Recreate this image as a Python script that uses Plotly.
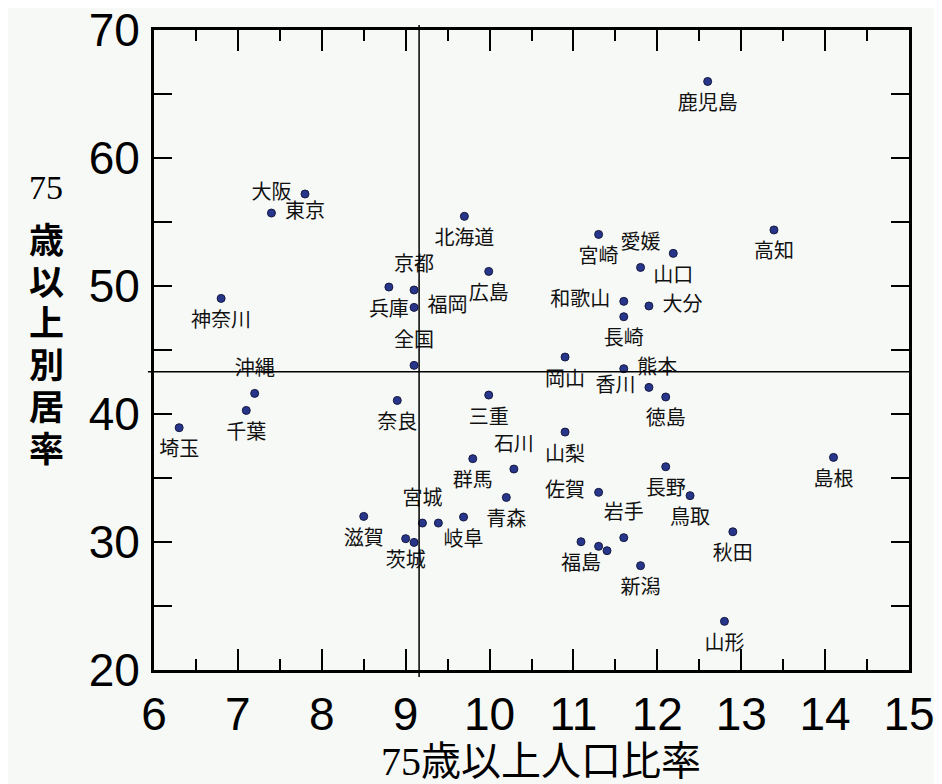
import plotly.graph_objects as go

# ---- data ----
names = ["鹿児島", "大阪", "東京", "北海道", "高知", "宮崎", "山口", "愛媛", "広島", "兵庫",
         "京都", "神奈川", "和歌山", "大分", "福岡", "長崎", "岡山", "全国", "熊本", "香川",
         "沖縄", "三重", "徳島", "奈良", "千葉", "埼玉", "山梨", "島根", "群馬", "長野",
         "石川", "佐賀", "鳥取", "青森", "滋賀", "岐阜", "宮城", "", "秋田", "岩手",
         "茨城", "", "福島", "", "", "新潟", "山形"]
ratio_75 = [12.60, 7.80, 7.40, 9.70, 13.39, 11.30, 12.19, 11.80, 9.99, 8.80,
            9.10, 6.80, 11.60, 11.90, 9.10, 11.60, 10.90, 9.10, 11.60, 11.90,
            7.20, 9.99, 12.10, 8.90, 7.10, 6.30, 10.90, 14.10, 9.80, 12.10,
            10.29, 11.30, 12.39, 10.20, 8.50, 9.69, 9.20, 9.39, 12.90, 11.60,
            9.00, 9.10, 11.09, 11.30, 11.40, 11.80, 12.80]
separate_rate = [65.98, 57.19, 55.70, 55.44, 54.38, 54.03, 52.55, 51.45, 51.14, 49.92,
                 49.69, 49.03, 48.80, 48.44, 48.33, 47.60, 44.45, 43.80, 43.54, 42.08,
                 41.61, 41.48, 41.33, 41.06, 40.28, 38.93, 38.59, 36.61, 36.51, 35.88,
                 35.70, 33.88, 33.62, 33.48, 32.00, 31.95, 31.48, 31.48, 30.80, 30.34,
                 30.26, 29.97, 30.02, 29.66, 29.32, 28.15, 23.80]
x_ticks = [6, 7, 8, 9, 10, 11, 12, 13, 14, 15]
y_ticks = [20, 30, 40, 50, 60, 70]
ref_x = 9.16   # vertical reference line
ref_y = 43.3   # horizontal reference line

# ---- label placement (style) ----
B, T, L, R = "bottom center", "top center", "middle left", "middle right"
label_pos = [B, L, R, B, B, B, B, T, B, B,
             T, B, L, R, R, B, B, T, R, L,
             T, B, B, B, B, B, B, B, B, B,
             T, L, B, B, B, B, T, B, B, T,
             B, B, B, B, B, B, B]

W, H = 942, 784
OFF = 8  # page body margin offset
ML, MR, MT, MB = 154 - OFF, 33 + OFF, 30 - OFF, 114 + OFF
PW, PH = W - ML - MR, H - MT - MB

def px(xp):
    return (xp - OFF - ML) / PW

def py(yp):
    return (H - MB - (yp - OFF)) / PH

bg = "#f7f9f7"
fig = go.Figure()
# labels (invisible larger marker sets the label offset)
fig.add_trace(go.Scatter(
    x=ratio_75, y=separate_rate, text=names, mode="markers+text",
    textposition=label_pos,
    textfont=dict(family="Noto Sans CJK JP", size=20, color="#111111"),
    marker=dict(size=20, color="rgba(0,0,0,0)"),
    cliponaxis=False, hoverinfo="skip", showlegend=False))
# points
fig.add_trace(go.Scatter(
    x=ratio_75, y=separate_rate, mode="markers",
    marker=dict(size=8, color="#27358a", line=dict(color="#151a40", width=1)),
    cliponaxis=False, hoverinfo="skip", showlegend=False))

axis_common = dict(showgrid=False, zeroline=False, showline=True, linecolor="black",
                   linewidth=3, mirror="ticks", ticks="inside", tickcolor="black",
                   tickwidth=2, automargin=False, ticklabeloverflow="allow",
                   tickfont=dict(family="Liberation Sans", size=46, color="black"))
fig.update_xaxes(range=[6, 15], tickvals=x_ticks, ticklen=21,
                 minor=dict(dtick=0.5, ticklen=11, ticks="inside", tickwidth=2, tickcolor="black"),
                 ticklabelstandoff=2, **axis_common)
fig.update_yaxes(range=[20, 70], tickvals=y_ticks, ticklen=18,
                 minor=dict(dtick=5, ticklen=18, ticks="inside", tickwidth=2, tickcolor="black"),
                 ticklabelstandoff=2, **axis_common)

fig.add_shape(type="line", xref="x", yref="paper", x0=ref_x, x1=ref_x, y0=-0.011, y1=1.008,
              line=dict(color="black", width=1.5))
fig.add_shape(type="line", xref="paper", yref="y", x0=-0.008, x1=1.0, y0=ref_y, y1=ref_y,
              line=dict(color="black", width=1.5))

ann = []
common = dict(xref="paper", yref="paper", showarrow=False, xanchor="center", yanchor="middle")
# y-axis title, stacked vertically
ann.append(dict(text="75", x=px(46), y=py(188),
                font=dict(family="Liberation Serif", size=34, color="black"), **common))
for ch, yp in zip("歳以上別居率", [238, 279, 320, 362, 404, 446]):
    ann.append(dict(text="<b>" + ch + "</b>", x=px(46), y=py(yp),
                    font=dict(family="Noto Sans CJK JP", size=35, color="black"), **common))
# x-axis title
ann.append(dict(text="<span style='font-family:Liberation Serif'>75</span>歳以上人口比率",
                x=px(541), y=py(758),
                font=dict(family="Noto Sans CJK JP", size=40, color="black"), **common))

fig.update_layout(width=W, height=H, margin=dict(l=ML, r=MR, t=MT, b=MB),
                  paper_bgcolor=bg, plot_bgcolor=bg, annotations=ann)

fig.write_html("out.html")
